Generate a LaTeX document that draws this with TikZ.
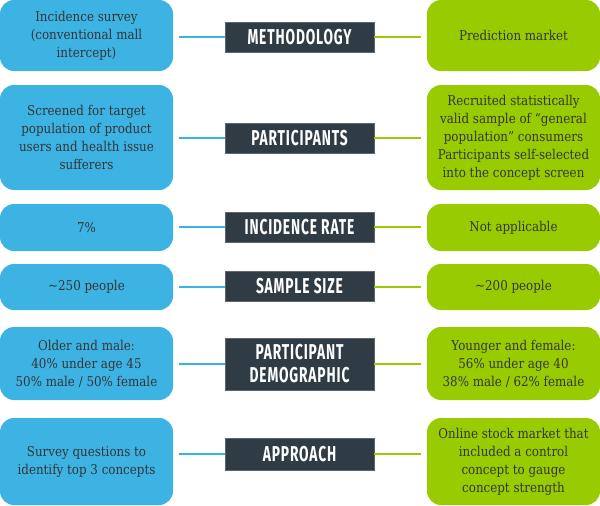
\documentclass[tikz,border=0pt]{standalone}
\usepackage{fontspec}
\newfontfamily\bodyfont[FakeStretch=0.88]{DejaVu Serif}
\newfontfamily\headfont[FakeStretch=0.64,LetterSpace=4]{Fira Sans}
\definecolor{cblue}{HTML}{3DB3E4}
\definecolor{cgreen}{HTML}{99CC00}
\definecolor{cdark}{HTML}{2F3C46}
\definecolor{cedge}{HTML}{5C6770}
\definecolor{ctext}{HTML}{353535}
\tikzset{
  cell/.style={rounded corners=14pt, minimum width=173pt, inner sep=0pt,
    align=center, text=ctext, font=\bodyfont\fontsize{13.5}{18}\selectfont},
  lcell/.style={cell, fill=cblue},
  rcell/.style={cell, fill=cgreen},
  head/.style={fill=cdark, draw=cedge, line width=0.7pt, minimum width=149pt,
    inner sep=0pt, align=center, text=white,
    font=\headfont\bfseries\fontsize{21.5}{23}\selectfont},
  lwire/.style={draw=cblue, line width=2pt, shorten <=6pt},
  rwire/.style={draw=cgreen, line width=2pt, shorten <=6pt},
}
\begin{document}
\begin{tikzpicture}[x=1pt,y=1pt]
\useasboundingbox (0,0) rectangle (600,-506);

% Row 1: methodology
\node[lcell, minimum height=71pt] (l1) at (86.5,-35.5)
  {Incidence survey\\(conventional mall\\intercept)};
\node[head, minimum height=30pt] (h1) at (299.5,-37) {METHODOLOGY};
\node[rcell, minimum height=71pt] (r1) at (513.5,-35.5) {Prediction market};

% Row 2: participants
\node[lcell, minimum height=105pt] (l2) at (86.5,-137.5)
  {Screened for target\\population of product\\users and health issue\\sufferers};
\node[head, minimum height=30pt] (h2) at (299.5,-138) {PARTICIPANTS};
\node[rcell, minimum height=105pt] (r2) at (513.5,-137.5)
  {Recruited statistically\\valid sample of “general\\population” consumers\\Participants self-selected\\into the concept screen};

% Row 3: incidence rate
\node[lcell, minimum height=47pt] (l3) at (86.5,-227.5) {7\%};
\node[head, minimum height=30pt] (h3) at (299.5,-227) {INCIDENCE RATE};
\node[rcell, minimum height=47pt] (r3) at (513.5,-227.5) {Not applicable};

% Row 4: sample size
\node[lcell, minimum height=46pt] (l4) at (86.5,-287) {\textasciitilde250 people};
\node[head, minimum height=30pt] (h4) at (299.5,-286.5) {SAMPLE SIZE};
\node[rcell, minimum height=46pt] (r4) at (513.5,-287) {\textasciitilde200 people};

% Row 5: participant demographic
\node[lcell, minimum height=73pt] (l5) at (86.5,-363.5)
  {Older and male:\\40\% under age 45\\50\% male / 50\% female};
\node[head, minimum height=52pt] (h5) at (299.5,-364) {PARTICIPANT\\DEMOGRAPHIC};
\node[rcell, minimum height=73pt] (r5) at (513.5,-363.5)
  {Younger and female:\\56\% under age 40\\38\% male / 62\% female};

% Row 6: approach
\node[lcell, minimum height=87pt] (l6) at (86.5,-461.5)
  {Survey questions to\\identify top 3 concepts};
\node[head, minimum height=32pt] (h6) at (299.5,-454) {APPROACH};
\node[rcell, minimum height=87pt] (r6) at (513.5,-461.5)
  {Online stock market that\\included a control\\concept to gauge\\concept strength};

% Connectors from each heading to its two cells
\foreach \i in {1,...,6}{
  \draw[lwire] (l\i.east |- h\i.west) -- (h\i.west);
  \draw[rwire] (r\i.west |- h\i.east) -- (h\i.east);
}
\end{tikzpicture}
\end{document}
